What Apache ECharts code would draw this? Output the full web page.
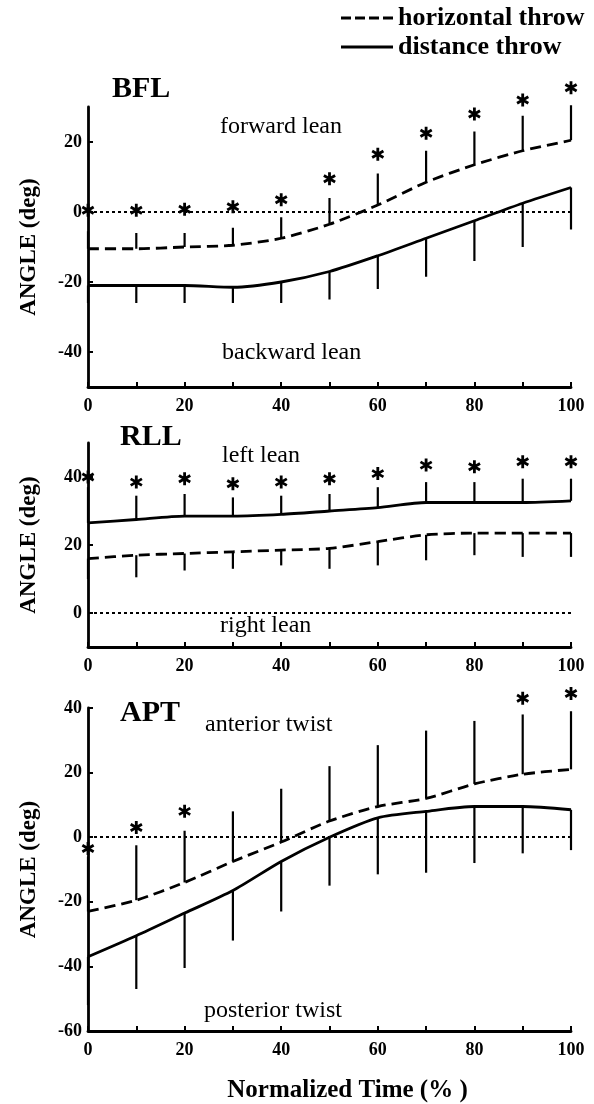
<!DOCTYPE html>
<html>
<head>
<meta charset="UTF-8">
<title>Trunk angles</title>
<script src="https://cdn.jsdelivr.net/npm/echarts@6/dist/echarts.min.js"></script>
<style>
  html, body { margin: 0; padding: 0; background: #fff; }
  #main { width: 594px; height: 1104px; }
</style>
</head>
<body>
<div id="main"></div>
<script>
// normalized time points
var xs = [0, 10, 20, 30, 40, 50, 60, 70, 80, 90, 100];
var xTicks = [0, 10, 20, 30, 40, 50, 60, 70, 80, 90, 100];
var xLabels = [0, 20, 40, 60, 80, 100];

// BFL
var bflHor = [-10.5, -10.5, -10, -9.5, -7.5, -3.5, 2, 8.5, 13.5, 17.5, 20.5];
var bflHorSd = [-5.5, -6, -6, -4.5, -1.5, 4, 11, 17.5, 23, 27.5, 30.5];
var bflDist = [-21, -21, -21, -21.5, -20, -17, -12.5, -7.5, -2.5, 2.5, 7];
var bflDistSd = [-26, -26, -26, -26, -26, -25, -22, -18.5, -14, -10, -5];
var bflStarX = [0, 10, 20, 30, 40, 50, 60, 70, 80, 90, 100];
var bflStarY = [0.5, 0.5, 0.8, 1.5, 3.5, 9.5, 16.5, 22.5, 28, 32, 35.5];
var bflTicks = [-40, -20, 0, 20];

// RLL
var rllHor = [16, 17, 17.5, 18, 18.5, 19, 21, 23, 23.5, 23.5, 23.5];
var rllHorSd = [10, 10.5, 12.5, 13, 14, 13, 14, 15.5, 17, 16.5, 16.5];
var rllDist = [26.5, 27.5, 28.5, 28.5, 29, 30, 31, 32.5, 32.5, 32.5, 33];
var rllDistSd = [37, 34.5, 35, 34, 34.5, 35, 37, 38.5, 38.5, 39.5, 39.5];
var rllStarX = [0, 10, 20, 30, 40, 50, 60, 70, 80, 90, 100];
var rllStarY = [40, 38.5, 39.5, 38, 38.5, 39.5, 41, 43.5, 43, 44.5, 44.5];
var rllTicks = [0, 20, 40];

// APT
var aptHor = [-23, -19.5, -14, -7.5, -1.5, 5, 9.5, 12, 16.5, 19.5, 21];
var aptHorSd = [-6, -2.5, 2, 8, 15, 22, 28.5, 33, 36, 38, 39];
var aptDist = [-37, -30.5, -23.5, -16.5, -7.5, 0, 6, 8, 9.5, 9.5, 8.5];
var aptDistSd = [-52, -47, -40.5, -32, -23, -15, -11.5, -11, -8, -5, -4];
var aptStarX = [0, 10, 20, 90, 100];
var aptStarY = [-3.5, 3, 8, 43, 44.5];
var aptTicks = [-60, -40, -20, 0, 20, 40];

var FONT = 'Liberation Serif';
// six-armed asterisk
var STAR = 'path://M4.7,12L7.3,12L7.3,0L4.7,0Z' +
  'M10.55,10.13L11.85,7.87L1.45,1.87L0.15,4.13Z' +
  'M0.15,7.87L1.45,10.13L11.85,4.13L10.55,1.87Z';

var chart = echarts.init(document.getElementById('main'));

function pairs(x, y) {
  return x.map(function (v, i) { return [v, y[i]]; });
}
function triples(mean, sd) {
  return xs.map(function (v, i) { return [v, mean[i], sd[i]]; });
}

function lineSeries(name, g, vals, dashed) {
  var s = {
    name: name, type: 'line', xAxisIndex: g, yAxisIndex: g,
    data: pairs(xs, vals), symbol: 'none', smooth: 0.25,
    lineStyle: { color: '#000', width: 2.8, type: dashed ? [11, 6] : 'solid' },
    itemStyle: { color: '#000' }, z: 3
  };
  if (dashed) {
    s.markLine = {
      silent: true, symbol: 'none', label: { show: false },
      lineStyle: { color: '#000', width: 2, type: [3, 3] },
      data: [{ yAxis: 0 }]
    };
  }
  return s;
}

function barSeries(g, mean, sd) {
  return {
    type: 'custom', xAxisIndex: g, yAxisIndex: g, silent: true,
    data: triples(mean, sd),
    renderItem: function (params, api) {
      var a = api.coord([api.value(0), api.value(1)]);
      var b = api.coord([api.value(0), api.value(2)]);
      return { type: 'line', shape: { x1: a[0], y1: a[1], x2: b[0], y2: b[1] },
               style: { stroke: '#000', lineWidth: 2.2 } };
    }, z: 2
  };
}

function starSeries(g, sx, sy) {
  return {
    type: 'scatter', xAxisIndex: g, yAxisIndex: g, silent: true, clip: false,
    data: pairs(sx, sy), symbol: STAR, symbolSize: 13, symbolKeepAspect: true,
    itemStyle: { color: '#000', opacity: 1 },
    z: 4
  };
}

var grids = [
  { left: 88, right: 23, top: 107, height: 280 },
  { left: 88, right: 23, top: 443, height: 204 },
  { left: 88, right: 23, top: 708, height: 330 }
];
var yRanges = [[-50, 30, bflTicks], [-10, 50, rllTicks], [-60, 40, aptTicks]];

var axisLabelStyle = { color: '#000', fontFamily: FONT, fontWeight: 'bold', fontSize: 18 };

var xAxes = grids.map(function (g, i) {
  return {
    type: 'value', gridIndex: i, min: 0, max: 100, interval: 10,
    name: i === 2 ? 'Normalized Time (% )' : '',
    nameLocation: 'middle', nameGap: 47,
    nameTextStyle: { color: '#000', fontFamily: FONT, fontWeight: 'bold', fontSize: 25, padding: [0, 0, 0, 36] },
    axisLine: { onZero: false, lineStyle: { color: '#000', width: 2.8 } },
    axisTick: { inside: true, length: 5, customValues: xTicks, lineStyle: { color: '#000', width: 2 } },
    axisLabel: Object.assign({ customValues: xLabels, margin: 10 }, axisLabelStyle),
    splitLine: { show: false }
  };
});
var yAxes = yRanges.map(function (r, i) {
  return {
    type: 'value', gridIndex: i, min: r[0], max: r[1],
    name: 'ANGLE (deg)', nameLocation: 'middle', nameGap: 47, nameRotate: 90,
    nameTextStyle: { color: '#000', fontFamily: FONT, fontWeight: 'bold', fontSize: 23 },
    axisLine: { onZero: false, lineStyle: { color: '#000', width: 2.8 } },
    axisTick: { inside: true, length: 5, customValues: r[2], lineStyle: { color: '#000', width: 2 } },
    axisLabel: Object.assign({ customValues: r[2], margin: 6 }, axisLabelStyle),
    splitLine: { show: false }
  };
});

function txt(x, y, s, size, bold) {
  return { type: 'text', left: x, top: y, silent: true,
           style: { text: s, fill: '#000', font: (bold ? 'bold ' : '') + size + 'px "' + FONT + '"' } };
}

var option = {
  backgroundColor: '#fff',
  animation: false,
  grid: grids,
  xAxis: xAxes,
  yAxis: yAxes,
  legend: {
    orient: 'vertical', left: 336, top: 0, itemWidth: 52, itemHeight: 3, itemGap: 3,
    data: [
      { name: 'horizontal throw', icon: 'path://M0,0h10v3h-10z M14,0h10v3h-10z M28,0h10v3h-10z M42,0h10v3h-10z' },
      { name: 'distance throw', icon: 'path://M0,0h52v3h-52z' }
    ],
    textStyle: { color: '#000', fontFamily: FONT, fontWeight: 'bold', fontSize: 26, lineHeight: 19 }
  },
  graphic: [
    txt(112, 74, 'BFL', 30, true),
    txt(220, 115, 'forward lean', 24),
    txt(222, 341, 'backward lean', 24),
    txt(120, 422, 'RLL', 30, true),
    txt(222, 444, 'left lean', 24),
    txt(220, 614, 'right lean', 24),
    txt(120, 698, 'APT', 30, true),
    txt(205, 713, 'anterior twist', 24),
    txt(204, 999, 'posterior twist', 24)
  ],
  series: [
    lineSeries('horizontal throw', 0, bflHor, true),
    lineSeries('distance throw', 0, bflDist, false),
    barSeries(0, bflHor, bflHorSd),
    barSeries(0, bflDist, bflDistSd),
    starSeries(0, bflStarX, bflStarY),

    lineSeries('horizontal throw', 1, rllHor, true),
    lineSeries('distance throw', 1, rllDist, false),
    barSeries(1, rllHor, rllHorSd),
    barSeries(1, rllDist, rllDistSd),
    starSeries(1, rllStarX, rllStarY),

    lineSeries('horizontal throw', 2, aptHor, true),
    lineSeries('distance throw', 2, aptDist, false),
    barSeries(2, aptHor, aptHorSd),
    barSeries(2, aptDist, aptDistSd),
    starSeries(2, aptStarX, aptStarY)
  ]
};
chart.setOption(option);
</script>
</body>
</html>
